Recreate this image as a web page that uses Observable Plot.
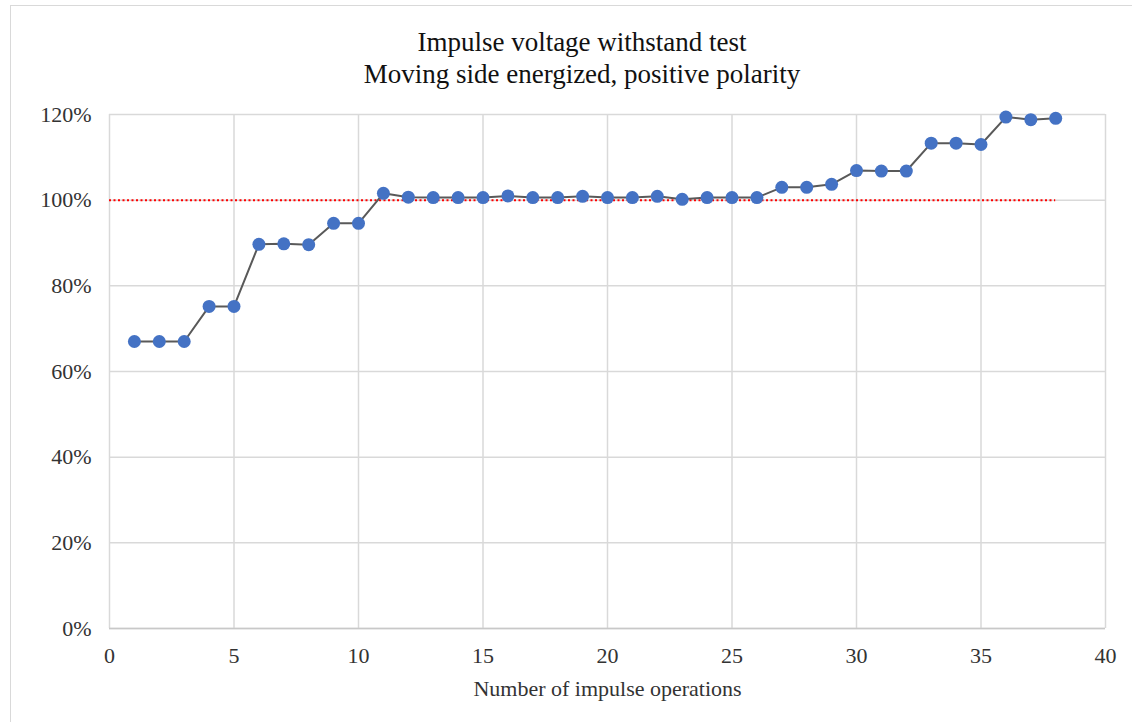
<!DOCTYPE html>
<html>
<head>
<meta charset="utf-8">
<script src="https://cdn.jsdelivr.net/npm/d3@7"></script>
<script src="https://cdn.jsdelivr.net/npm/@observablehq/plot@0.6"></script>
<style>
  html, body { margin: 0; padding: 0; background: #fff; }
  #wrap { position: relative; width: 1132px; height: 722px; overflow: hidden; font-family: "Liberation Serif", "Times New Roman", serif; }
  #frame { position: absolute; left: 10px; top: 5px; width: 1200px; height: 800px; border-left: 1px solid #d9d9d9; border-top: 1px solid #d9d9d9; }
  #title { position: absolute; top: 26px; left: 282px; width: 600px; text-align: center; font-size: 27px; line-height: 32px; color: #111; white-space: nowrap; }
  #chart { position: absolute; left: 0; top: 100px; }
</style>
</head>
<body>
<div id="wrap">
  <div id="frame"></div>
  <div id="title">Impulse voltage withstand test<br>Moving side energized, positive polarity</div>
  <div id="chart"></div>
</div>
<script>
const operations = [1,2,3,4,5,6,7,8,9,10,11,12,13,14,15,16,17,18,19,20,21,22,23,24,25,26,27,28,29,30,31,32,33,34,35,36,37,38];
const voltagePct = [67.0,67.0,67.0,75.2,75.2,89.7,89.8,89.6,94.6,94.6,101.6,100.7,100.6,100.6,100.6,101.0,100.6,100.6,100.9,100.6,100.6,100.9,100.2,100.6,100.6,100.6,103.0,103.0,103.7,106.9,106.8,106.8,113.3,113.3,113.0,119.4,118.8,119.1];
const xTicks = [0,5,10,15,20,25,30,35,40];
const yTicks = [0,20,40,60,80,100,120];
const referenceLevel = 100;
const referenceSpan = [0, 38];
const xLabel = "Number of impulse operations";

const data = operations.map((n, i) => ({n, v: voltagePct[i]}));

const chart = Plot.plot({
  width: 1132,
  height: 622,
  marginLeft: 109,
  marginRight: 27,
  marginTop: 14,
  marginBottom: 94,
  style: {fontFamily: "'Liberation Serif', 'Times New Roman', serif", background: "transparent"},
  x: {domain: [0, 40]},
  y: {domain: [0, 120]},
  marks: [
    Plot.gridX(xTicks, {stroke: "#d9d9d9", strokeOpacity: 1, strokeWidth: 1.5}),
    Plot.gridY(yTicks, {stroke: "#d9d9d9", strokeOpacity: 1, strokeWidth: 1.5}),
    Plot.ruleY([0], {stroke: "#c8c8c8", strokeWidth: 1.5}),
    Plot.axisX(xTicks, {tickSize: 0, tickPadding: 19, fontSize: 22, color: "#333", label: null}),
    Plot.axisY(yTicks, {tickSize: 0, tickPadding: 18, fontSize: 22, color: "#333", label: null, tickFormat: d => d + "%"}),
    Plot.text([xLabel], {frameAnchor: "bottom", dy: 60, fontSize: 22, fill: "#333", lineAnchor: "middle"}),
    Plot.ruleY([referenceLevel], {x1: referenceSpan[0], x2: referenceSpan[1], stroke: "#ff0000", strokeWidth: 2, strokeDasharray: "2,2.5"}),
    Plot.line(data, {x: "n", y: "v", stroke: "#595959", strokeWidth: 2}),
    Plot.dot(data, {x: "n", y: "v", r: 6.5, fill: "#4472C4", stroke: "none"})
  ]
});
document.getElementById("chart").appendChild(chart);
</script>
</body>
</html>
